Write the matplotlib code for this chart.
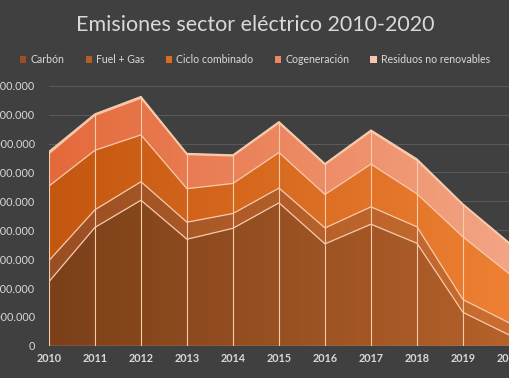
import matplotlib.pyplot as plt
import numpy as np
from matplotlib.colors import LinearSegmentedColormap
from matplotlib.patches import Patch

# Data (toneladas CO2)
years = [2010, 2011, 2012, 2013, 2014, 2015, 2016, 2017, 2018, 2019, 2020]
carbon = [22.2e6, 41.0e6, 50.4e6, 36.9e6, 40.7e6, 49.5e6, 35.3e6, 42.1e6, 35.5e6, 11.6e6, 3.8e6]
fuel_gas = [7.3e6, 6.1e6, 6.4e6, 5.9e6, 5.1e6, 5.1e6, 5.5e6, 6.0e6, 5.7e6, 4.4e6, 4.2e6]
ciclo = [25.8e6, 20.6e6, 16.2e6, 11.6e6, 10.4e6, 12.3e6, 11.6e6, 14.8e6, 11.4e6, 21.7e6, 17.0e6]
cogen = [11.2e6, 12.1e6, 12.7e6, 11.8e6, 9.5e6, 10.2e6, 10.3e6, 11.3e6, 11.5e6, 11.1e6, 10.4e6]
residuos = [0.8e6, 0.5e6, 0.6e6, 0.4e6, 0.4e6, 0.5e6, 0.4e6, 0.5e6, 0.6e6, 0.3e6, 0.4e6]

labels = ['Carbón', 'Fuel + Gas', 'Ciclo combinado', 'Cogeneración', 'Residuos no renovables']
series = [carbon, fuel_gas, ciclo, cogen, residuos]
# left -> right gradient colours per series
grads = [('#7B4019', '#B5612A'),
         ('#9A4E22', '#CB6E30'),
         ('#C4570F', '#EE8033'),
         ('#E4693A', '#F3A585'),
         ('#F4B8A0', '#FAD3C2')]

bg = '#404040'
txt = '#D9D9D9'
plt.rcParams['font.family'] = ['Lato', 'DejaVu Sans']

fig = plt.figure(figsize=(5.1, 3.78), dpi=100, facecolor=bg)
ax = fig.add_axes([0.096, 0.085, 0.902, 0.688])
ax.set_facecolor(bg)

x = np.array(years)
ymax = 90e6
ax.set_xlim(2010, 2020)
ax.set_ylim(0, ymax)

# gridlines
for v in np.arange(10e6, ymax + 1, 10e6):
    ax.axhline(v, color='#5A5A5A', lw=0.7, zorder=0)

bottom = np.zeros(len(years))
for vals, (c0, c1) in zip(series, grads):
    top = bottom + np.array(vals)
    poly = ax.fill_between(x, bottom, top, facecolor='none', edgecolor='none', zorder=1)
    cmap = LinearSegmentedColormap.from_list('g', [c0, c1])
    grad = np.linspace(0, 1, 256).reshape(1, -1)
    im = ax.imshow(grad, cmap=cmap, extent=[2010, 2020, 0, ymax], aspect='auto',
                   origin='lower', zorder=1, interpolation='bilinear')
    im.set_clip_path(poly.get_paths()[0], transform=ax.transData)
    ax.plot(x, top, color='#F8CBAD', lw=0.9, zorder=3)
    bottom = top

# drop lines
ax.vlines(x, 0, bottom, color='#F8CBAD', lw=0.8, zorder=2)
ax.axhline(0, color='#F8CBAD', lw=0.9, zorder=3)

ax.set_xticks(years)
ax.set_xticklabels([str(y) for y in years], fontsize=7.8, fontweight='bold', color=txt)
ticks = np.arange(0, ymax + 1, 10e6)
ax.set_yticks(ticks)
ax.set_yticklabels(['0' if t == 0 else f'{t:,.0f}'.replace(',', '.') for t in ticks],
                   fontsize=7.8, color=txt)
ax.tick_params(axis='both', length=0)
ax.tick_params(axis='y', pad=10)
ax.tick_params(axis='x', pad=5)
for s in ax.spines.values():
    s.set_visible(False)

handles = [Patch(facecolor=LinearSegmentedColormap.from_list('g', g)(0.5), edgecolor='none')
           for g in grads]
fig.legend(handles, labels, loc='center', bbox_to_anchor=(0.5, 0.842), ncol=5,
           frameon=False, fontsize=7.6, labelcolor=txt, handlelength=0.6, handleheight=0.6,
           handletextpad=0.4, columnspacing=2.0)

fig.text(0.5, 0.934, 'Emisiones sector eléctrico 2010-2020', ha='center', va='center',
         fontsize=15.5, color=txt)

fig.savefig('out.png', dpi=100, facecolor=bg)
